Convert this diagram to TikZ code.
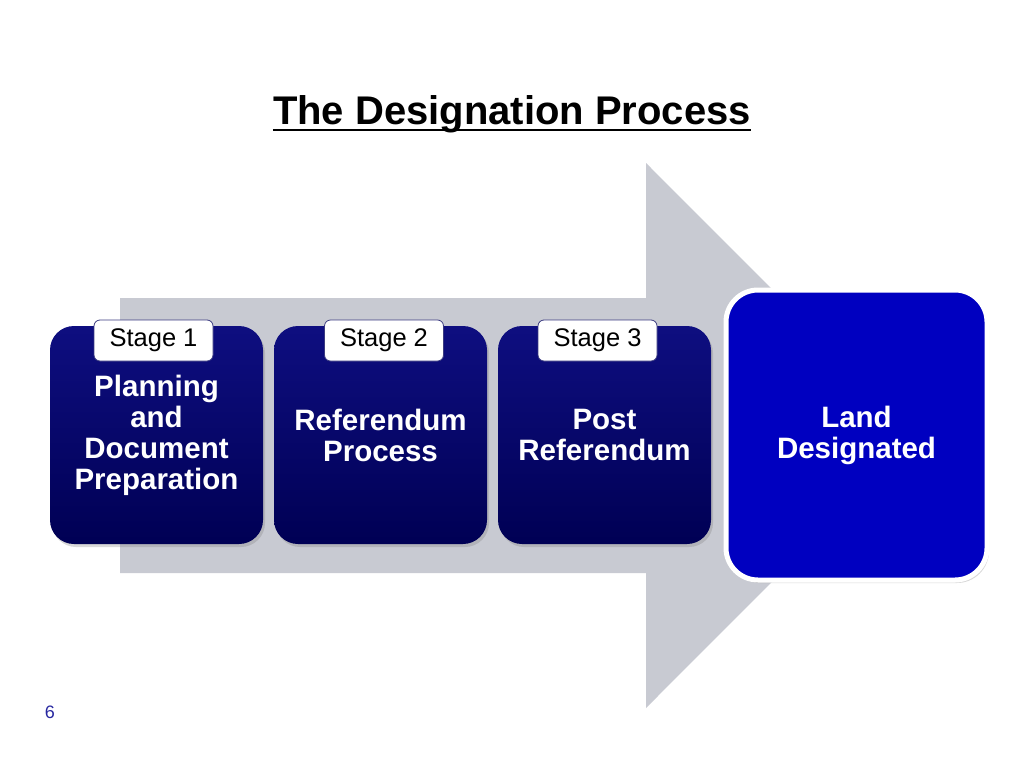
\documentclass[tikz,border=0pt]{standalone}
\usepackage{fontspec}
\setmainfont{Liberation Sans}
\usetikzlibrary{shadows}
\definecolor{navyTop}{RGB}{14,14,128}
\definecolor{navyBot}{RGB}{0,0,84}
\definecolor{landBlue}{RGB}{0,0,192}
\definecolor{arrowGray}{RGB}{200,202,210}
\definecolor{pageNum}{RGB}{40,40,160}
\begin{document}
\begin{tikzpicture}[x=1pt,y=-1pt,
  stepcard/.style={rectangle, rounded corners=24pt, minimum width=213pt, minimum height=218pt,
    top color=navyTop, bottom color=navyBot, draw=none, text=white, inner sep=0pt,
    font=\bfseries\fontsize{29.5}{31}\selectfont, align=center,
    drop shadow={opacity=0.3, shadow xshift=2pt, shadow yshift=-3pt}},
  landcard/.style={rectangle, rounded corners=32pt, minimum width=261pt, minimum height=290pt,
    fill=landBlue, draw=white, line width=5pt, text=white, inner sep=0pt,
    font=\bfseries\fontsize{29.5}{31}\selectfont, align=center,
    drop shadow={opacity=0.3, shadow xshift=2pt, shadow yshift=-3pt}},
  stagetag/.style={rectangle, rounded corners=6pt, minimum width=119pt, minimum height=41pt,
    fill=white, draw=navyTop!60!gray, line width=0.8pt, inner sep=0pt,
    font=\fontsize{25.5}{28}\selectfont, text=black},
]
\useasboundingbox (0,0) rectangle (1024,768);
% title
\node[font=\bfseries\fontsize{40}{44}\selectfont, anchor=base, inner sep=0pt] (title) at (512,124) {The Designation Process};
\draw[line width=2.6pt] ([yshift=-6pt]title.base west) -- ([yshift=-6pt]title.base east);
% big arrow
\fill[arrowGray] (120,298) -- (646,298) -- (646,163) -- (918,435.5) -- (646,708) -- (646,573) -- (120,573) -- cycle;
% cards
\node[stepcard] (s1) at (156.5,435) {Planning\\and\\Document\\Preparation};
\node[stepcard] (s2) at (380.5,435) {Referendum\\Process};
\node[stepcard] (s3) at (604.5,435) {Post\\Referendum};
\node[landcard] (land) at (856.5,435) {Land\\Designated};
% stage tags
\node[stagetag] (t1) at (153.5,340.5) {Stage 1};
\node[stagetag] (t2) at (384,340.5) {Stage 2};
\node[stagetag] (t3) at (597.5,340.5) {Stage 3};
% page number
\node[font=\fontsize{18}{21}\selectfont, text=pageNum] (pg) at (50,712) {6};
\end{tikzpicture}
\end{document}
